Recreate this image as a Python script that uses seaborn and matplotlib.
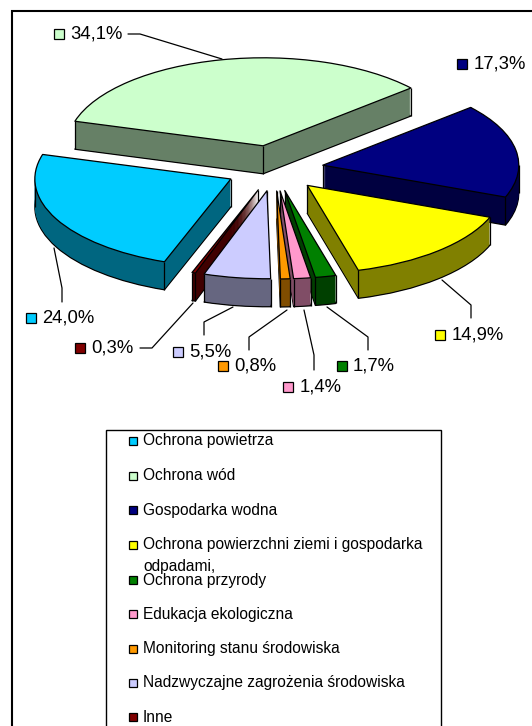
import math
import matplotlib
matplotlib.use("Agg")
import matplotlib.pyplot as plt
import seaborn as sns
from matplotlib.lines import Line2D
from matplotlib.patches import Rectangle

categories = ["Ochrona powietrza", "Ochrona wód", "Gospodarka wodna",
              "Ochrona powierzchni ziemi i gospodarka\nodpadami,", "Ochrona przyrody",
              "Edukacja ekologiczna", "Monitoring stanu środowiska",
              "Nadzwyczajne zagrożenia środowiska", "Inne"]
values = [24.0, 34.1, 17.3, 14.9, 1.7, 1.4, 0.8, 5.5, 0.3]
value_labels = ["24,0%", "34,1%", "17,3%", "14,9%", "1,7%", "1,4%", "0,8%", "5,5%", "0,3%"]
top_hex = ["#00CCFF", "#CCFFCC", "#000080", "#FFFF00", "#008000",
           "#FF99CC", "#FF9900", "#CCCCFF", "#800000"]

W, H = 532, 726
CX, CY, RX, RY = 274.5, 169, 196, 88
DEPTH = 28
START = 250.2
explode = [0.25, 0.27, 0.25, 0.25, 0.25, 0.25, 0.25, 0.25, 0.25]

sns.set_theme(style="white")
plt.rcParams["font.family"] = ["Liberation Sans", "DejaVu Sans"]
top_colors = sns.color_palette(top_hex)
side_colors = [tuple(c * 0.5 for c in col) for col in top_colors]

fig = plt.figure(figsize=(W / 100, H / 100), dpi=100, facecolor="white")
ax = fig.add_axes([0, 0, 1, 1])


def px_line(xs, ys, lw=0.9):
    fig.add_artist(Line2D([x / W for x in xs], [1 - y / H for y in ys], color="black", lw=lw, zorder=200))


def px_key(x, y, col, size=9):
    fig.add_artist(Rectangle(((x - size / 2) / W, 1 - (y + size / 2) / H), size / W, size / H,
                             transform=fig.transFigure, facecolor=col, edgecolor="black",
                             lw=0.9, zorder=200))


def layer(offset, colors, lw):
    wedges, _ = ax.pie(values, colors=colors, explode=explode, startangle=START, counterclock=False,
                       center=(0, offset), radius=1, normalize=True,
                       wedgeprops={"linewidth": lw, "edgecolor": "black", "joinstyle": "round"})
    return wedges


# back-to-front order, so front slices cover the sides of those behind
mids = []
total = 0
for v in values:
    mids.append(math.radians(START - (total + v / 2) * 3.6))
    total += v
order = sorted(range(len(values)), key=lambda i: -math.sin(mids[i]))
rank = {i: r for r, i in enumerate(order)}

depth = DEPTH / RY
for step in range(DEPTH, 0, -1):
    off = -step / RY
    lw = 0.9 if step == DEPTH else 0
    for i, w in enumerate(layer(off, side_colors, lw)):
        w.set_zorder(rank[i] * 10 + 1 + (DEPTH - step) * 0.01)

top = layer(0, top_colors, 0.9)
for i, w in enumerate(top):
    w.set_zorder(rank[i] * 10 + 5)
    # upright edges of the slice
    cx, cy = w.center
    angles = [w.theta1, w.theta2]
    for a in (0, 180, 360):
        if w.theta1 < a < w.theta2:
            angles.append(a)
    pts = [(cx, cy)] + [(cx + math.cos(math.radians(a)), cy + math.sin(math.radians(a))) for a in angles]
    for x, y in pts:
        ax.plot([x, x], [y, y - depth], color="black", lw=0.9, zorder=rank[i] * 10 + 3, solid_capstyle="butt")

ax.set_aspect("auto")
ax.set_xlim((0 - CX) / RX, (W - CX) / RX)
ax.set_ylim((CY - H) / RY, CY / RY)
ax.axis("off")

# outer frame, runs off the right and bottom of the picture
fig.add_artist(Rectangle((11.5 / W, -0.02), 600 / W, 1 - 10.5 / H + 0.02, transform=fig.transFigure,
                         fill=False, edgecolor="black", lw=1.5, zorder=100))

# data labels: key x, text x, y
label_pos = [(31, 42, 318), (59, 70, 34), (462, 474, 64), (440, 452, 335), (342, 353, 366),
             (288, 300, 387), (223, 234, 366), (178, 189, 352), (80, 91, 348)]
for (kx, tx, y), txt, col in zip(label_pos, value_labels, top_colors):
    px_key(kx, y, col, 10)
    fig.text(tx / W, 1 - y / H, txt, fontsize=13.3, color="black", va="center", ha="left", zorder=200)

leaders = [([54, 62, 62], [248, 288, 302]), ([128, 140, 222], [34, 34, 59]),
           ([471, 471, 442], [318, 305, 280]), ([368, 368, 327], [350, 337, 307]),
           ([314, 314, 304], [370, 355, 310]), ([249, 249, 287], [350, 337, 310]),
           ([204, 204, 233], [335, 322, 307]), ([140, 152, 193], [348, 348, 303])]
for xs, ys in leaders:
    px_line(xs, ys)

# legend box
fig.add_artist(Rectangle((106 / W, -0.02), 335 / W, 1 - 430 / H + 0.02, transform=fig.transFigure,
                         facecolor="white", edgecolor="black", lw=1, zorder=150))
legend_y = [441, 476, 510, 545, 580, 614, 649, 683, 717]
for y, txt, col in zip(legend_y, categories, top_colors):
    px_key(133, y, col, 8)
    parts = txt.split("\n")
    fig.text(143 / W, 1 - y / H, parts[0], fontsize=11.2, color="black", va="center", ha="left", zorder=200)
    if len(parts) > 1:
        fig.text(143 / W, 1 - (y + 22) / H, parts[1], fontsize=11.2, color="black", va="center", ha="left", zorder=200)

fig.savefig("out.png", dpi=100)
